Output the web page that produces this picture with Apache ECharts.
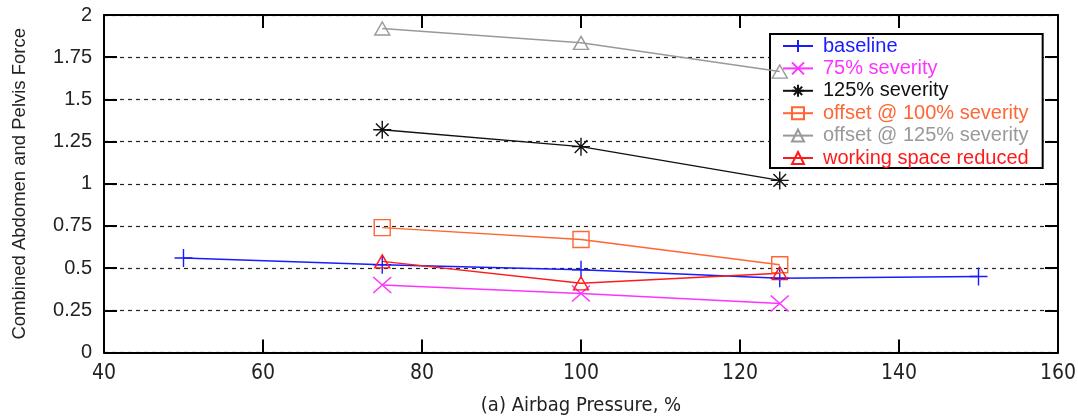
<!DOCTYPE html>
<html>
<head>
<meta charset="utf-8">
<script src="https://cdn.jsdelivr.net/npm/echarts@6/dist/echarts.min.js"></script>
<style>
  html, body { margin: 0; padding: 0; background: #fff; }
  #chart { width: 1078px; height: 419px; }
</style>
</head>
<body>
<div id="chart"></div>
<script>
// Airbag pressure (%) against combined abdomen and pelvis force
const xTicks = [40, 60, 80, 100, 120, 140, 160];
const yTicks = [0, 0.25, 0.5, 0.75, 1, 1.25, 1.5, 1.75, 2];

const seriesNames = [
  'baseline',
  '75% severity',
  '125% severity',
  'offset @ 100% severity',
  'offset @ 125% severity',
  'working space reduced'
];

const baseline       = [[50, 0.56], [75, 0.52], [100, 0.49], [125, 0.44], [150, 0.45]];
const severity75     = [[75, 0.40], [100, 0.35], [125, 0.29]];
const severity125    = [[75, 1.32], [100, 1.22], [125, 1.02]];
const offset100      = [[75, 0.74], [100, 0.67], [125, 0.52]];
const offset125      = [[75, 1.92], [100, 1.835], [125, 1.665]];
const workingReduced = [[75, 0.54], [100, 0.41], [125, 0.47]];

const seriesData = [baseline, severity75, severity125, offset100, offset125, workingReduced];
const colors = ['#1a1aff', '#ff33ff', '#111111', '#ff6633', '#999999', '#ff1a1a'];

// open-stroke point markers
const symbols = [
  'path://M5,0L5,10M0,5L10,5',
  'path://M0,0L10,10M0,10L10,0',
  'path://M5,0L5,10M0,5L10,5M1.5,1.5L8.5,8.5M1.5,8.5L8.5,1.5',
  'path://M0,0L10,0L10,10L0,10Z',
  'path://M5,0L10,9L0,9Z',
  'path://M5,0L10,9L0,9Z'
];
const symbolSizes = [[18, 18], [18, 16], [18, 18], [16, 16], [15, 13], [15, 13]];

const font = '"Liberation Sans", Arial, sans-serif';
const narrow = '"Liberation Sans Narrow", "DejaVu Sans Condensed", "Liberation Sans", Arial, sans-serif';

const chart = echarts.init(document.getElementById('chart'), null, { renderer: 'canvas' });

const frameLine = { show: true, onZero: false, lineStyle: { color: '#000', width: 2 } };
const tickIn = { show: true, inside: true, length: 13, lineStyle: { color: '#000', width: 2 } };

const series = seriesNames.map((name, i) => ({
  name: name,
  type: 'line',
  data: seriesData[i],
  symbol: symbols[i],
  symbolSize: symbolSizes[i],
  showAllSymbol: true,
  lineStyle: { color: colors[i], width: 1.5 },
  itemStyle: { color: 'rgba(0,0,0,0)', borderColor: colors[i], borderWidth: 1.4 },
  emphasis: { disabled: true },
  z: 3
}));

chart.setOption({
  animation: false,
  backgroundColor: '#fff',
  grid: { left: 104, right: 20, top: 15, bottom: 66.5, containLabel: false, outerBoundsMode: 'none' },
  legend: {
    orient: 'vertical',
    left: 770,
    top: 34,
    padding: [2, 14, 0, 12],
    itemGap: 2.4,
    itemWidth: 30,
    itemHeight: 15,
    backgroundColor: '#fff',
    borderColor: '#000',
    borderWidth: 2,
    borderRadius: 0,
    z: 2,
    data: seriesNames.map((n, i) => ({ name: n, textStyle: { color: colors[i] } })),
    textStyle: { fontFamily: font, fontSize: 20, lineHeight: 20, padding: [0, 0, 0, 5] }
  },
  xAxis: [
    {
      type: 'value', min: 40, max: 160, interval: 20,
      axisLine: frameLine, axisTick: tickIn, splitLine: { show: false },
      axisLabel: { color: '#222', fontFamily: narrow, fontSize: 21, margin: 11 },
      name: '(a) Airbag Pressure, %',
      nameLocation: 'middle', nameGap: 43,
      nameTextStyle: { color: '#222', fontFamily: narrow, fontSize: 20 }
    },
    {
      type: 'value', position: 'top', min: 40, max: 160, interval: 20,
      axisLine: frameLine, axisTick: tickIn, splitLine: { show: false },
      axisLabel: { show: false }
    }
  ],
  yAxis: [
    {
      type: 'value', min: 0, max: 2, interval: 0.25,
      axisLine: frameLine, axisTick: tickIn,
      splitLine: { show: true, lineStyle: { color: '#222', width: 1.2, type: [4, 4] } },
      axisLabel: { color: '#222', fontFamily: font, fontSize: 20, margin: 12 },
      name: 'Combined Abdomen and Pelvis Force',
      nameLocation: 'middle', nameGap: 75, nameRotate: 90,
      nameTextStyle: { color: '#222', fontFamily: font, fontSize: 18.5 }
    },
    {
      type: 'value', position: 'right', min: 0, max: 2, interval: 0.25,
      axisLine: frameLine, axisTick: tickIn, splitLine: { show: false },
      axisLabel: { show: false }
    }
  ],
  series: series
});
</script>
</body>
</html>
